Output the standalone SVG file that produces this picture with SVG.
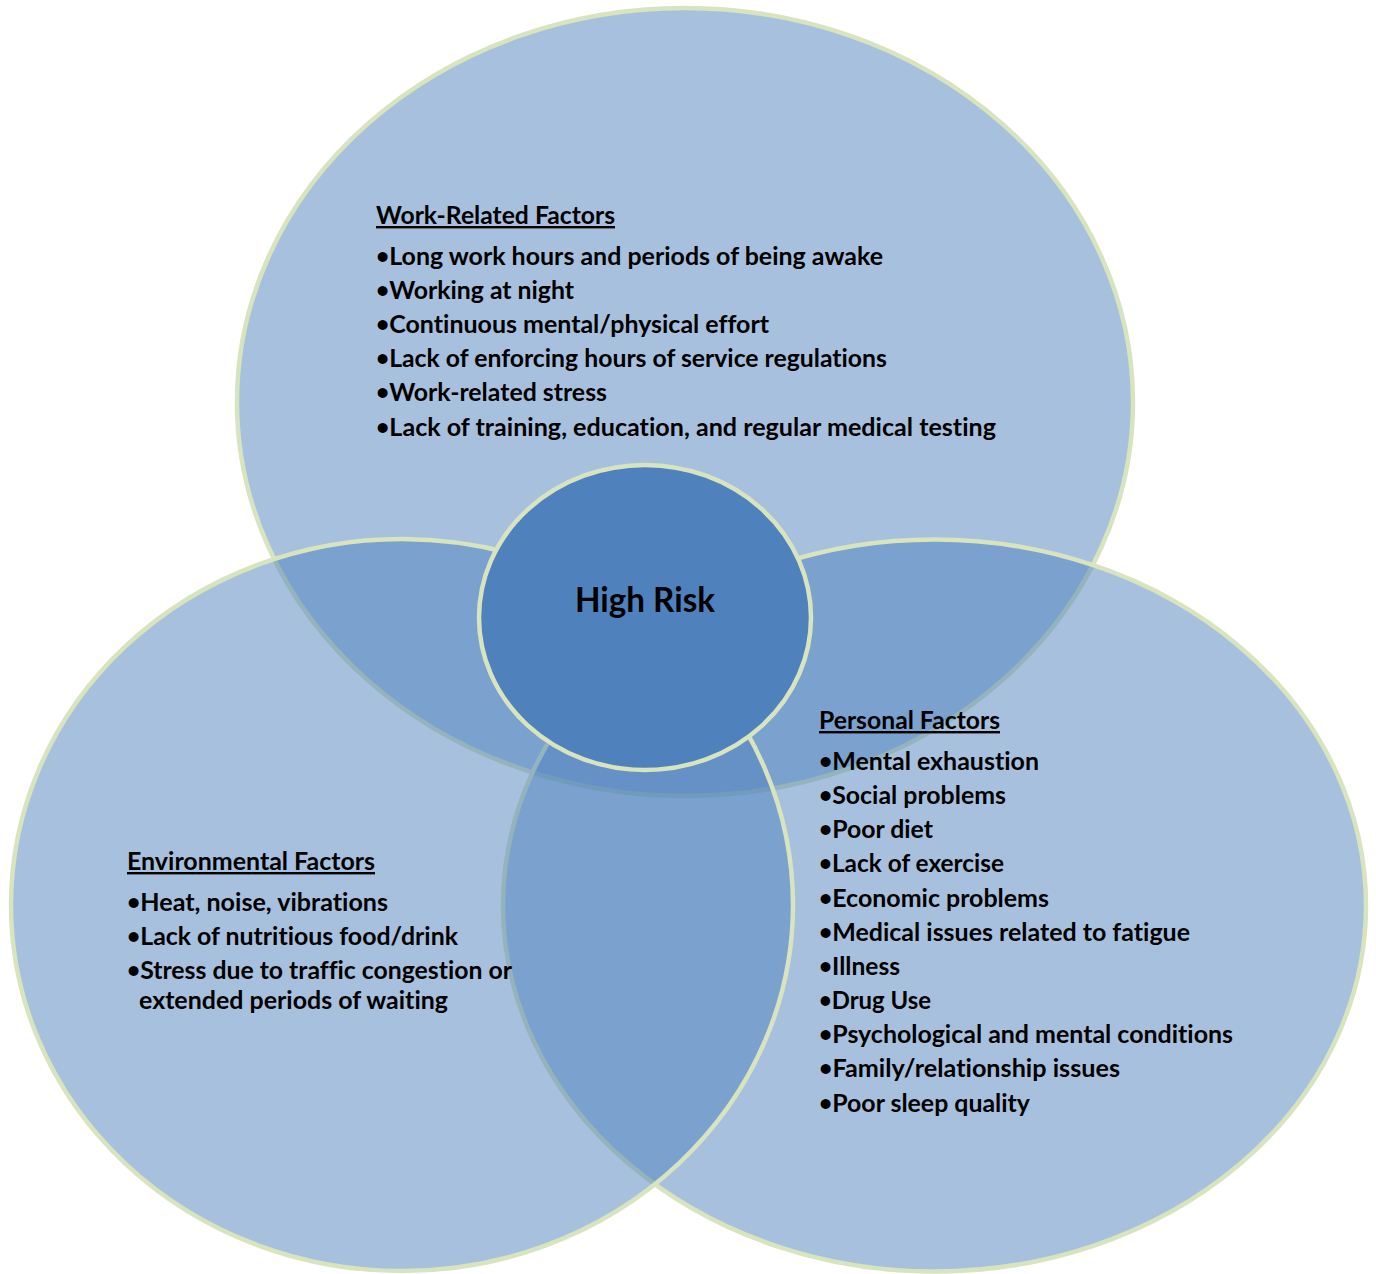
<svg xmlns="http://www.w3.org/2000/svg" width="1376" height="1274" viewBox="0 0 1376 1274">
  <style>
    .set { fill: #4F81BD; fill-opacity: 0.5; stroke: #D7E4BD; stroke-width: 4.5; }
    .core { fill: #4F81BD; stroke: #D7E4BD; stroke-width: 4.5; }
    text { font-family: Lato, "Open Sans", "Liberation Sans", sans-serif; font-weight: 700; fill: #000000; font-size: 24px; font-variant-ligatures: none; }
    .hd { text-decoration: underline; }
    .big { font-size: 35px; }
    .b { font-size: 22px; baseline-shift: 1px; }
  </style>
  <rect x="0" y="0" width="1376" height="1274" fill="#FFFFFF"/>
  <g id="work-related-factors">
    <ellipse class="set" cx="685" cy="402" rx="448" ry="394"/>
    <text class="hd" x="376" y="224" textLength="239" lengthAdjust="spacingAndGlyphs">Work-Related Factors</text>
    <text x="376" y="265" textLength="507" lengthAdjust="spacingAndGlyphs"><tspan class="b">•</tspan>Long work hours and periods of being awake</text>
    <text x="376" y="299" textLength="198" lengthAdjust="spacingAndGlyphs"><tspan class="b">•</tspan>Working at night</text>
    <text x="376" y="333" textLength="393" lengthAdjust="spacingAndGlyphs"><tspan class="b">•</tspan>Continuous mental/physical effort</text>
    <text x="376" y="367" textLength="511" lengthAdjust="spacingAndGlyphs"><tspan class="b">•</tspan>Lack of enforcing hours of service regulations</text>
    <text x="376" y="401" textLength="231" lengthAdjust="spacingAndGlyphs"><tspan class="b">•</tspan>Work-related stress</text>
    <text x="376" y="436" textLength="620" lengthAdjust="spacingAndGlyphs"><tspan class="b">•</tspan>Lack of training, education, and regular medical testing</text>
  </g>
  <g id="personal-factors">
    <ellipse class="set" cx="934.5" cy="905.5" rx="431.5" ry="366"/>
    <text class="hd" x="819" y="729" textLength="181" lengthAdjust="spacingAndGlyphs">Personal Factors</text>
    <text x="819" y="770" textLength="220" lengthAdjust="spacingAndGlyphs"><tspan class="b">•</tspan>Mental exhaustion</text>
    <text x="819" y="804" textLength="187" lengthAdjust="spacingAndGlyphs"><tspan class="b">•</tspan>Social problems</text>
    <text x="819" y="838" textLength="114" lengthAdjust="spacingAndGlyphs"><tspan class="b">•</tspan>Poor diet</text>
    <text x="819" y="872" textLength="185" lengthAdjust="spacingAndGlyphs"><tspan class="b">•</tspan>Lack of exercise</text>
    <text x="819" y="907" textLength="230" lengthAdjust="spacingAndGlyphs"><tspan class="b">•</tspan>Economic problems</text>
    <text x="819" y="941" textLength="371" lengthAdjust="spacingAndGlyphs"><tspan class="b">•</tspan>Medical issues related to fatigue</text>
    <text x="819" y="975" textLength="81" lengthAdjust="spacingAndGlyphs"><tspan class="b">•</tspan>Illness</text>
    <text x="819" y="1009" textLength="112" lengthAdjust="spacingAndGlyphs"><tspan class="b">•</tspan>Drug Use</text>
    <text x="819" y="1043" textLength="414" lengthAdjust="spacingAndGlyphs"><tspan class="b">•</tspan>Psychological and mental conditions</text>
    <text x="819" y="1077" textLength="301" lengthAdjust="spacingAndGlyphs"><tspan class="b">•</tspan>Family/relationship issues</text>
    <text x="819" y="1112" textLength="211" lengthAdjust="spacingAndGlyphs"><tspan class="b">•</tspan>Poor sleep quality</text>
  </g>
  <g id="environmental-factors">
    <ellipse class="set" cx="402" cy="905" rx="391" ry="366"/>
    <text class="hd" x="127" y="870" textLength="248" lengthAdjust="spacingAndGlyphs">Environmental Factors</text>
    <text x="127" y="911" textLength="261" lengthAdjust="spacingAndGlyphs"><tspan class="b">•</tspan>Heat, noise, vibrations</text>
    <text x="127" y="945" textLength="331" lengthAdjust="spacingAndGlyphs"><tspan class="b">•</tspan>Lack of nutritious food/drink</text>
    <text x="127" y="979" textLength="385" lengthAdjust="spacingAndGlyphs"><tspan class="b">•</tspan>Stress due to traffic congestion or</text>
    <text x="139" y="1009" textLength="309" lengthAdjust="spacingAndGlyphs">extended periods of waiting</text>
  </g>
  <g id="high-risk">
    <ellipse class="core" cx="645" cy="617.5" rx="166" ry="152.5"/>
    <text class="big" x="645" y="612" text-anchor="middle" textLength="140" lengthAdjust="spacingAndGlyphs">High Risk</text>
  </g>
</svg>
